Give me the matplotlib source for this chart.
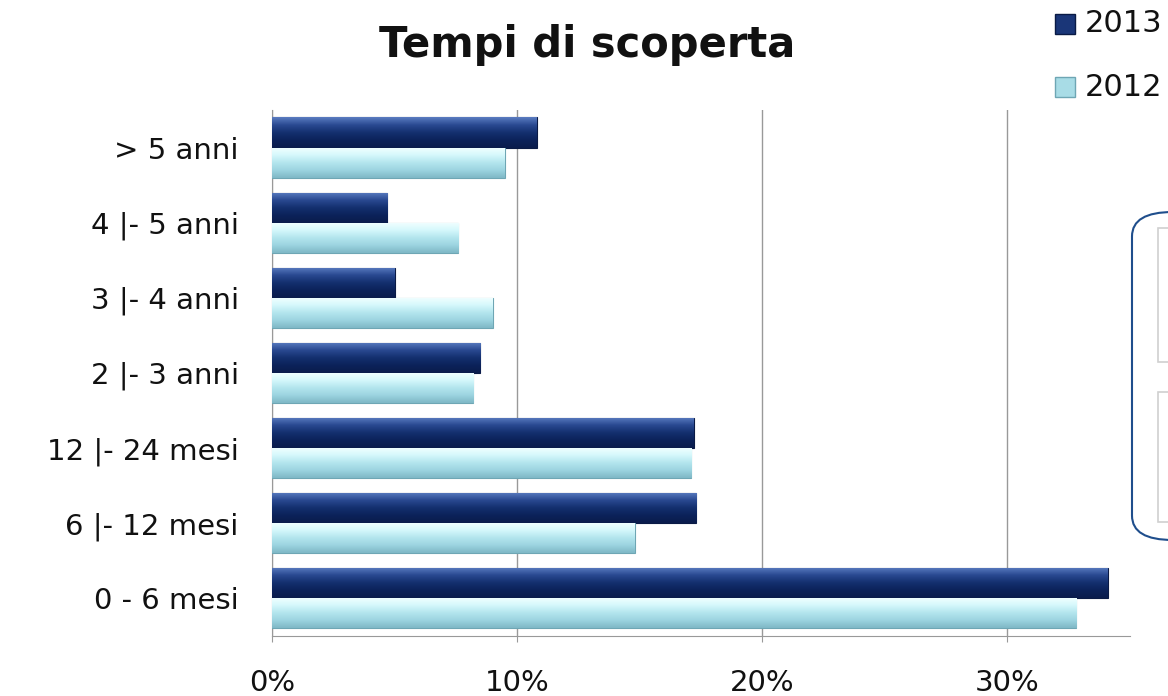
import matplotlib.pyplot as plt
import numpy as np
from matplotlib.patches import FancyBboxPatch, Rectangle
from matplotlib.colors import LinearSegmentedColormap

# categories from top to bottom
categories = ['> 5 anni', '4 |- 5 anni', '3 |- 4 anni', '2 |- 3 anni',
              '12 |- 24 mesi', '6 |- 12 mesi', '0 - 6 mesi']
series_names = ['2013', '2012']
vals_2013 = [10.8, 4.7, 5.0, 8.5, 17.2, 17.3, 34.1]
vals_2012 = [9.5, 7.6, 9.0, 8.2, 17.1, 14.8, 32.8]
xticks = [0, 10, 20, 30]
xtick_labels = ['0%', '10%', '20%', '30%']

dark_cmap = LinearSegmentedColormap.from_list(
    'dark', ['#5a7cc0', '#2a4a92', '#14306f', '#0c225a', '#0a1c4c'])
light_cmap = LinearSegmentedColormap.from_list(
    'light', ['#f2ffff', '#d6f8fc', '#b4e6ee', '#9cd4e0', '#7fb8c6'])
grad = np.linspace(0, 1, 64).reshape(-1, 1)

fig = plt.figure(figsize=(11.68, 6.96), dpi=100)
ax = fig.add_axes([0.2329, 0.0862, 0.7346, 0.7558])

y = np.arange(len(categories))
h = 0.4

b13 = ax.barh(y - h / 2, vals_2013, height=h, color='#14306f', edgecolor='#0a1a45', linewidth=0.8, zorder=3)
b12 = ax.barh(y + h / 2, vals_2012, height=h, color='#a8dce6', edgecolor='#6ea6b4', linewidth=0.8, zorder=3)

#vertical gradient inside every bar, clipped to the bar
for bars, cmap in [(b13, dark_cmap), (b12, light_cmap)]:
    for p in bars:
        x0, y0, w, hh = p.get_x(), p.get_y(), p.get_width(), p.get_height()
        im = ax.imshow(grad, cmap=cmap, aspect='auto', extent=(x0, x0 + w, y0 + hh, y0),
                       zorder=3.5, interpolation='bilinear')
        im.set_clip_path(p)

ax.set_ylim(len(categories) - 0.5, -0.5)
ax.set_xlim(0, 35)
ax.set_yticks(y)
ax.set_yticklabels(categories, fontsize=21, color='#111111')
ax.set_xticks(xticks)
ax.set_xticklabels(xtick_labels, fontsize=21, color='#111111')
ax.tick_params(axis='y', length=0, pad=24)
ax.tick_params(axis='x', length=4, pad=20, color='#999999')

ax.grid(axis='x', color='#999999', linewidth=1, zorder=0)
for s in ['top', 'right']:
    ax.spines[s].set_visible(False)
ax.spines['left'].set_color('#999999')
ax.spines['bottom'].set_color('#999999')

fig.text(587 / 1168, 1 - 45 / 696, 'Tempi di scoperta', fontsize=30, fontweight='bold',
         ha='center', va='center', color='#111111')

#legend at top right, partly cut off like the source
leg_colors = ['#1a3678', '#a8dce6']
leg_edges = ['#0a1a45', '#6ea6b4']
for i, name in enumerate(series_names):
    cy = 24 + 63 * i
    fig.add_artist(Rectangle((1055 / 1168, 1 - (cy + 10) / 696), 20 / 1168, 20 / 696,
                             transform=fig.transFigure, facecolor=leg_colors[i],
                             edgecolor=leg_edges[i], linewidth=1))
    fig.text(1085 / 1168, 1 - cy / 696, name, fontsize=22, ha='left', va='center', color='#111111')

#rounded box peeking in on the right edge
box = FancyBboxPatch((1132 / 1168, 1 - 540 / 696), 0.2, (540 - 212) / 696,
                     boxstyle='round,pad=0,rounding_size=0.035', transform=fig.transFigure,
                     facecolor='white', edgecolor='#1f4e8c', linewidth=1.5, zorder=5)
fig.add_artist(box)
for top, bot in [(228, 362), (392, 522)]:
    fig.add_artist(Rectangle((1158 / 1168, 1 - bot / 696), 0.05, (bot - top) / 696,
                             transform=fig.transFigure, facecolor='white',
                             edgecolor='#d0d0d0', linewidth=1.2, zorder=6))

fig.savefig('out.png', dpi=100)
